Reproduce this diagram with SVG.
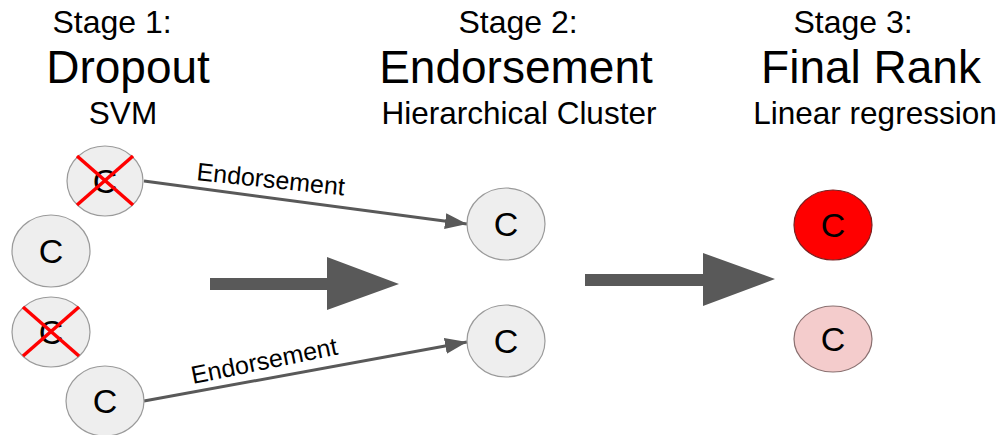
<svg xmlns="http://www.w3.org/2000/svg" width="998" height="435" viewBox="0 0 998 435">
<style>
text{font-family:"Liberation Sans",Arial,sans-serif;fill:#000;text-anchor:middle}
.stage{font-size:32px}
.title{font-size:46px}
.sub{font-size:31.5px}
.c{font-size:34px}
.node{fill:#eeeeee;stroke:#9a9a9a;stroke-width:1.2}
.x{stroke:#ff0000;stroke-width:3.5;stroke-linecap:butt}
.edge{stroke:#595959;stroke-width:3;fill:none}
.big{fill:#595959}
.lbl{font-size:25px;text-anchor:start}
</style>
<defs>
<marker id="ah" markerUnits="userSpaceOnUse" markerWidth="24" markerHeight="18" refX="22" refY="8" orient="auto">
<path d="M0,0 L22,8 L0,16 Z" fill="#595959"/>
</marker>
</defs>
<rect width="998" height="435" fill="#fff"/>
<g id="headers">
<text class="stage" x="112" y="33">Stage 1:</text>
<text class="title" x="128" y="83">Dropout</text>
<text class="sub" x="123" y="124">SVM</text>
<text class="stage" x="518" y="33">Stage 2:</text>
<text class="title" x="516" y="83">Endorsement</text>
<text class="sub" x="519" y="124">Hierarchical Cluster</text>
<text class="stage" x="853" y="33">Stage 3:</text>
<text class="title" x="871" y="83">Final Rank</text>
<text class="sub" x="875" y="124">Linear regression</text>
</g>
<g id="connectors">
<line class="edge" x1="144" y1="181" x2="467" y2="224" marker-end="url(#ah)"/>
<line class="edge" x1="144" y1="401" x2="467" y2="342" marker-end="url(#ah)"/>
<text class="lbl" transform="translate(196,180) rotate(6)">Endorsement</text>
<text class="lbl" transform="translate(193,384) rotate(-11.5)">Endorsement</text>
<polygon class="big" points="210,278 327,278 327,257 399,284 327,310 327,290 210,290"/>
<polygon class="big" points="585,274 703,274 703,253 775,279 703,306 703,286 585,286"/>
</g>
<g id="n1">
<ellipse class="node" cx="105" cy="181" rx="38" ry="35"/>
<text class="c" x="105" y="193">C</text>
<line class="x" x1="77" y1="156" x2="133" y2="205"/>
<line class="x" x1="133" y1="156" x2="77" y2="205"/>
</g>
<g id="n2">
<ellipse class="node" cx="51" cy="251" rx="39" ry="36"/>
<text class="c" x="51" y="263">C</text>
</g>
<g id="n3">
<ellipse class="node" cx="51" cy="332" rx="39" ry="35"/>
<text class="c" x="51" y="344">C</text>
<line class="x" x1="23" y1="307" x2="79" y2="356"/>
<line class="x" x1="79" y1="307" x2="23" y2="356"/>
</g>
<g id="n4">
<ellipse class="node" cx="105" cy="401" rx="39" ry="35"/>
<text class="c" x="105" y="413">C</text>
</g>
<g id="n5">
<ellipse class="node" cx="506" cy="224" rx="39" ry="36"/>
<text class="c" x="506" y="236">C</text>
</g>
<g id="n6">
<ellipse class="node" cx="506" cy="341" rx="39" ry="36"/>
<text class="c" x="506" y="353">C</text>
</g>
<g id="n7">
<ellipse class="node" cx="833" cy="225" rx="39" ry="35" style="fill:#ff0000;stroke:#7a2020"/>
<text class="c" x="833" y="237">C</text>
</g>
<g id="n8">
<ellipse class="node" cx="833" cy="339" rx="39" ry="33" style="fill:#f4cccc;stroke:#8a7070"/>
<text class="c" x="833" y="351">C</text>
</g>
</svg>
